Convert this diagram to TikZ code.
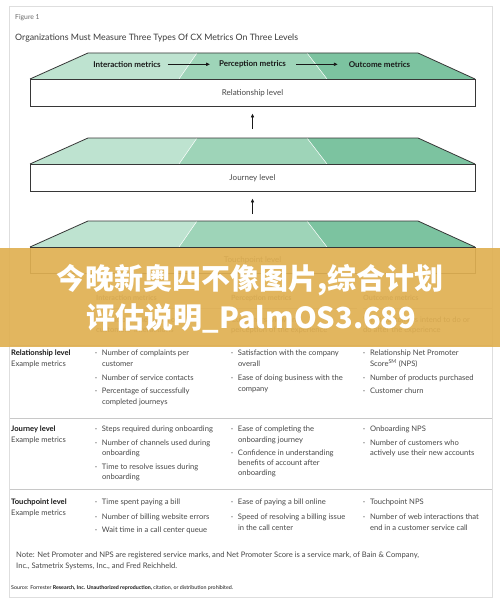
\documentclass[tikz,border=0pt]{standalone}
\usepackage{fontspec}
\setmainfont{Lato}
\newfontfamily\cjk{Noto Sans CJK SC}
\usetikzlibrary{arrows.meta}
\definecolor{gA}{RGB}{190,227,208}
\definecolor{gB}{RGB}{158,212,184}
\definecolor{gC}{RGB}{124,195,160}
\definecolor{edgec}{RGB}{55,55,55}
\definecolor{txt}{RGB}{72,72,72}
\definecolor{lbl}{RGB}{25,25,25}
\definecolor{hdr}{RGB}{105,105,105}
\definecolor{framec}{RGB}{222,222,222}
\definecolor{sepc}{RGB}{200,200,200}
\definecolor{bannerc}{RGB}{224,176,82}
\newcommand\bu{\makebox[6.8pt][l]{·}}
\newcommand\TL[4]{\node[body] (#1) at (#2,#3) {#4};}
\newcommand\LB[4]{\node[body,font=\fontsize{7.6}{9}\bfseries,text=lbl] (#1) at (#2,#3) {#4};}
\newcommand\prism[5]{%
  \fill[gA] (88,#2) -- (197,#2) -- (179,#3) -- (30,#3) -- cycle;
  \fill[gB] (197,#2) -- (307,#2) -- (327,#3) -- (179,#3) -- cycle;
  \fill[gC] (307,#2) -- (418,#2) -- (475,#3) -- (327,#3) -- cycle;
  \draw[white,line width=.5pt] (197,#2) -- (179,#3) (307,#2) -- (327,#3);
  \draw[edge] (30,#3) -- (88,#2) -- (418,#2) -- (475,#3);
  \coordinate (#1top) at (252.5,#2);
  \node[lvl, minimum height=#4pt] (#1) at (252.5,#3) {#5};
}
\begin{document}
\begin{tikzpicture}[x=1pt,y=-1pt,
  body/.style={font=\fontsize{7.6}{9}\selectfont, text=txt, inner sep=0, anchor=base west, yshift=-2.6pt},
  edge/.style={draw=edgec, line width=.8pt, line join=round},
  lvl/.style={draw=edgec, line width=.8pt, fill=white, minimum width=445pt, inner sep=0, anchor=north, font=\fontsize{8}{9}\selectfont, text=txt},
  mhead/.style={font=\fontsize{8}{9}\bfseries, text=lbl, inner sep=0},
  thead/.style={font=\fontsize{7.2}{9}\bfseries, text=hdr, inner sep=0, anchor=base west, yshift=-2.5pt},
  arr/.style={draw=lbl, line width=.6pt, -{Triangle[length=3.6pt,width=3.2pt]}},
  sep/.style={draw=sepc, line width=.9pt},
  uline/.style={draw=sepc, line width=.6pt}]
\useasboundingbox (0,0) rectangle (500,599);
\fill[white] (0,0) rectangle (500,599);
\draw[framec, line width=.8pt] (9.5,6.5) rectangle (492.5,597);
\node[font=\fontsize{6.8}{8}\selectfont, text=hdr, inner sep=0, anchor=base west] (fig) at (15,19.5) {Figure 1};
\node[font=\fontsize{8.8}{10}\selectfont, text=txt!80!black, inner sep=0, anchor=base west] (title) at (15,41) {Organizations Must Measure Three Types Of CX Metrics On Three Levels};
% prisms
\prism{rel}{53}{79}{27}{Relationship level}
\prism{jour}{138}{164}{27}{Journey level}
\prism{touch}{221}{247}{26}{Touchpoint level}
\node[mhead] (hA) at (127,64.3) {Interaction metrics};
\node[mhead] (hB) at (252.5,64.3) {Perception metrics};
\node[mhead] (hC) at (379.5,64.3) {Outcome metrics};
\draw[arr, shorten <=7pt, shorten >=9pt] (hA) -- (hB);
\draw[arr, shorten <=10pt, shorten >=11pt] (hB) -- (hC);
\draw[arr, shorten <=9pt, shorten >=7pt] (jourtop) -- (rel.south);
\draw[arr, shorten <=7pt, shorten >=7pt] (touchtop) -- (jour.south);
% table header
\node[thead] (tA) at (96,298) {Interaction metrics};
\node[thead] (tB) at (231,298) {Perception metrics};
\node[thead] (tC) at (363,298) {Outcome metrics};
\coordinate (uA1) at (96,308); \coordinate (uA2) at (225,308);
\coordinate (uB1) at (231,308); \coordinate (uB2) at (357,308);
\coordinate (uC1) at (363,308); \coordinate (uC2) at (492,308);
\draw[uline] (uA1) -- (uA2) (uB1) -- (uB2) (uC1) -- (uC2);
\TL{dA1}{96}{320}{Operational measures of}
\TL{dA2}{96}{330}{customers' interactions}
\TL{dB1}{231}{320}{Customers' view and}
\TL{dB2}{231}{330}{perception of the experience}
\TL{dC1}{363}{320}{What customers intend to do or}
\TL{dC2}{363}{330}{do after the experience}
% separators
\coordinate (s1a) at (10,345); \coordinate (s1b) at (492,345);
\coordinate (s2a) at (10,418); \coordinate (s2b) at (492,418);
\coordinate (s3a) at (10,489); \coordinate (s3b) at (492,489);
\draw[sep] (s1a) -- (s1b) (s2a) -- (s2b) (s3a) -- (s3b);
% relationship row
\LB{rL}{11}{353}{Relationship level}
\TL{rE}{11}{364}{Example metrics}
\TL{r11}{95}{353}{\bu Number of complaints per}
\TL{r12}{101.8}{364}{customer}
\TL{r13}{95}{378}{\bu Number of service contacts}
\TL{r14}{95}{391}{\bu Percentage of successfully}
\TL{r15}{101.8}{402}{completed journeys}
\TL{r21}{231}{353}{\bu Satisfaction with the company}
\TL{r22}{237.8}{364}{overall}
\TL{r23}{231}{378}{\bu Ease of doing business with the}
\TL{r24}{237.8}{389}{company}
\TL{r31}{363}{353}{\bu Relationship Net Promoter}
\TL{r32}{369.8}{364}{Score\textsuperscript{SM} (NPS)}
\TL{r33}{363}{378}{\bu Number of products purchased}
\TL{r34}{363}{391}{\bu Customer churn}
% journey row
\LB{jL}{11}{429}{Journey level}
\TL{jE}{11}{439.5}{Example metrics}
\TL{j11}{95}{429}{\bu Steps required during onboarding}
\TL{j12}{95}{443}{\bu Number of channels used during}
\TL{j13}{101.8}{453}{onboarding}
\TL{j14}{95}{467}{\bu Time to resolve issues during}
\TL{j15}{101.8}{477}{onboarding}
\TL{j21}{231}{429}{\bu Ease of completing the}
\TL{j22}{237.8}{439.5}{onboarding journey}
\TL{j23}{231}{453}{\bu Confidence in understanding}
\TL{j24}{237.8}{463}{benefits of account after}
\TL{j25}{237.8}{473}{onboarding}
\TL{j31}{363}{429}{\bu Onboarding NPS}
\TL{j32}{363}{443}{\bu Number of customers who}
\TL{j33}{369.8}{453}{actively use their new accounts}
% touchpoint row
\LB{tL}{11}{502}{Touchpoint level}
\TL{tE}{11}{513}{Example metrics}
\TL{t11}{95}{502}{\bu Time spent paying a bill}
\TL{t12}{95}{517}{\bu Number of billing website errors}
\TL{t13}{95}{530}{\bu Wait time in a call center queue}
\TL{t21}{231}{502}{\bu Ease of paying a bill online}
\TL{t22}{231}{517}{\bu Speed of resolving a billing issue}
\TL{t23}{237.8}{528}{in the call center}
\TL{t31}{363}{502}{\bu Touchpoint NPS}
\TL{t32}{363}{517}{\bu Number of web interactions that}
\TL{t33}{369.8}{528}{end in a customer service call}
% note and source
\TL{n1}{16}{555}{Note: Net Promoter and NPS are registered service marks, and Net Promoter Score is a service mark, of Bain \& Company,}
\TL{n2}{16}{566}{Inc., Satmetrix Systems, Inc., and Fred Reichheld.}
\node[font=\fontsize{5.3}{6}\selectfont, text=lbl, inner sep=0, anchor=base west] (src) at (11,589) {Source: Forrester \textbf{Research, Inc. Unauthorized reproduction,} citation, or distribution prohibited.};
% banner overlay
\fill[bannerc, opacity=0.92] (0,248) rectangle (500,347);
\node[font=\cjk\bfseries\fontsize{29}{30}\selectfont, text=white, inner sep=0] (ban1) at (250,280) {今晚新奥四不像图片,综合计划};
\node[font=\cjk\bfseries\fontsize{29}{30}\selectfont, text=white, inner sep=0] (ban2) at (251.5,318) {评估说明\_PalmOS3.689};
\end{tikzpicture}
\end{document}
